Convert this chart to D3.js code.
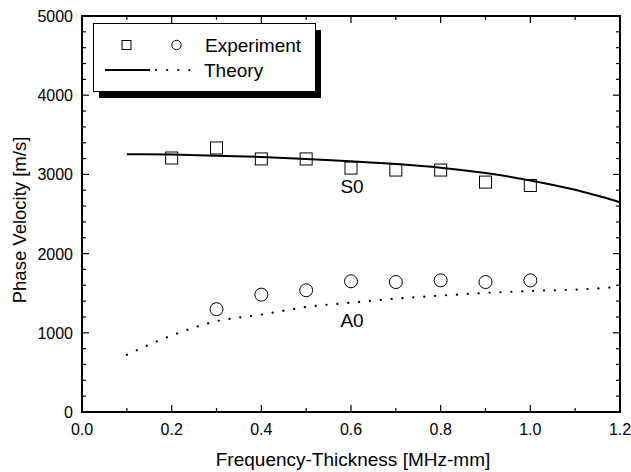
<!DOCTYPE html>
<html><head><meta charset="utf-8">
<script src="https://cdn.jsdelivr.net/npm/d3@7"></script>
<style>body{margin:0;background:#fff}svg{display:block;font-family:"Liberation Sans",Arial,sans-serif}</style>
</head><body>
<svg id="c" width="631" height="472"></svg>
<script>
const expX = [0.2,0.3,0.4,0.5,0.6,0.7,0.8,0.9,1.0];
const expS0 = [3207,3334,3195,3195,3080,3055,3055,2903,2860];
const expA0 = [null,1298,1482,1537,1650,1641,1662,1641,1662];
const thX = [0.1,0.2,0.3,0.4,0.5,0.6,0.7,0.8,0.9,1.0,1.1,1.2];
const thS0 = [3254,3250,3237,3220,3195,3165,3131,3085,3017,2924,2805,2649];
const thA0 = [723,966,1146,1230,1326,1381,1432,1470,1503,1528,1545,1578];
const xTicks = [0.0,0.2,0.4,0.6,0.8,1.0,1.2];
const yTicks = [0,1000,2000,3000,4000,5000];

const svg = d3.select("#c");
const L=82,R=620,T=16,B=412;
const x = d3.scaleLinear().domain([0,1.2]).range([L,R]);
const y = d3.scaleLinear().domain([0,5000]).range([B,T]);

// ticks (inward) on all sides
const g = svg.append("g");
const xMinor = d3.range(0,1.2001,0.1);
const yMinor = d3.range(0,5001,200);
xMinor.forEach((v,i)=>{
  const major = i%2===0; const len = major?7:4;
  g.append("line").attr("x1",x(v)).attr("x2",x(v)).attr("y1",B).attr("y2",B-len).attr("stroke","#000").attr("stroke-width",1.2);
  g.append("line").attr("x1",x(v)).attr("x2",x(v)).attr("y1",T).attr("y2",T+len).attr("stroke","#000").attr("stroke-width",1.2);
});
yMinor.forEach(v=>{
  const major = v%1000===0; const len = major?7:4;
  g.append("line").attr("y1",y(v)).attr("y2",y(v)).attr("x1",L).attr("x2",L+len).attr("stroke","#000").attr("stroke-width",1.2);
  g.append("line").attr("y1",y(v)).attr("y2",y(v)).attr("x1",R).attr("x2",R-len).attr("stroke","#000").attr("stroke-width",1.2);
});
svg.append("rect").attr("x",L).attr("y",T).attr("width",R-L).attr("height",B-T).attr("fill","none").attr("stroke","#000").attr("stroke-width",2);

// tick labels
svg.selectAll(".xt").data(xTicks).enter().append("text")
  .attr("x",d=>x(d)).attr("y",435).attr("text-anchor","middle").attr("font-size",16).text(d=>d.toFixed(1));
svg.selectAll(".yt").data(yTicks).enter().append("text")
  .attr("x",L-9).attr("y",d=>y(d)+6).attr("text-anchor","end").attr("font-size",16).text(d=>d);

svg.append("text").attr("x",353).attr("y",466).attr("text-anchor","middle").attr("font-size",19).text("Frequency-Thickness [MHz-mm]");
svg.append("text").attr("transform",`translate(26,220) rotate(-90)`).attr("text-anchor","middle").attr("font-size",18.5).text("Phase Velocity [m/s]");

// theory lines
const line = d3.line().x(d=>x(d[0])).y(d=>y(d[1])).curve(d3.curveMonotoneX);
svg.append("path").datum(thX.map((v,i)=>[v,thS0[i]])).attr("d",line).attr("fill","none").attr("stroke","#000").attr("stroke-width",2);
svg.append("path").datum(thX.map((v,i)=>[v,thA0[i]])).attr("d",line).attr("fill","none").attr("stroke","#000").attr("stroke-width",2.2).attr("stroke-dasharray","0.1 10.8").attr("stroke-linecap","round");

// experiment markers
svg.selectAll(".sq").data(expX.map((v,i)=>[v,expS0[i]])).enter().append("rect")
  .attr("x",d=>x(d[0])-6).attr("y",d=>y(d[1])-6).attr("width",12).attr("height",12).attr("fill","none").attr("stroke","#000").attr("stroke-width",1);
svg.selectAll(".ci").data(expX.map((v,i)=>[v,expA0[i]]).filter(d=>d[1]!==null)).enter().append("circle")
  .attr("cx",d=>x(d[0])).attr("cy",d=>y(d[1])).attr("r",6.5).attr("fill","none").attr("stroke","#000").attr("stroke-width",1);

svg.append("text").attr("x",352).attr("y",193).attr("text-anchor","middle").attr("font-size",19).text("S0");
svg.append("text").attr("x",352).attr("y",327).attr("text-anchor","middle").attr("font-size",19).text("A0");

// legend
const lg = svg.append("g");
lg.append("rect").attr("x",99).attr("y",30).attr("width",222).attr("height",68).attr("fill","#000");
lg.append("rect").attr("x",93.5).attr("y",23.5).attr("width",222).attr("height",68).attr("fill","#fff").attr("stroke","#000").attr("stroke-width",1);
lg.append("rect").attr("x",122).attr("y",40.5).attr("width",9).attr("height",9).attr("fill","none").attr("stroke","#000");
lg.append("circle").attr("cx",176.5).attr("cy",45).attr("r",4.7).attr("fill","none").attr("stroke","#000");
lg.append("text").attr("x",205).attr("y",52).attr("font-size",19).text("Experiment");
lg.append("line").attr("x1",105).attr("x2",150).attr("y1",70).attr("y2",70).attr("stroke","#000").attr("stroke-width",2);
lg.append("line").attr("x1",156).attr("x2",200).attr("y1",70).attr("y2",70).attr("stroke","#000").attr("stroke-width",2.2).attr("stroke-dasharray","0.1 11").attr("stroke-linecap","round");
lg.append("text").attr("x",204).attr("y",77).attr("font-size",19).text("Theory");
</script>
</body></html>
